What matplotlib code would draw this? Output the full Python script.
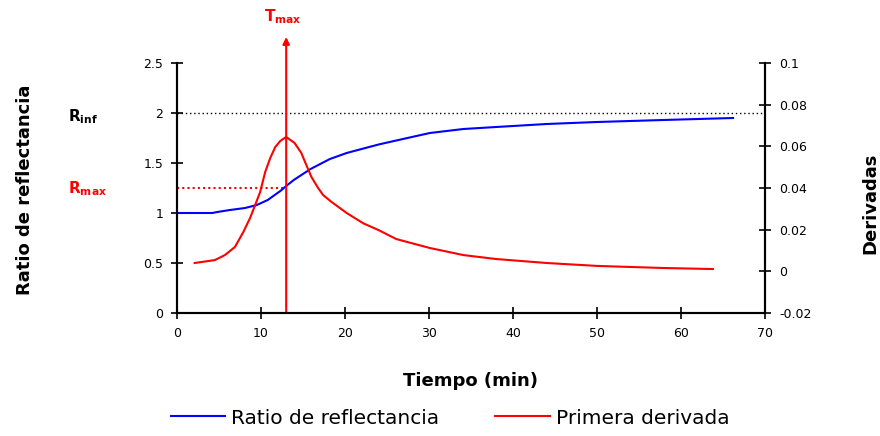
import matplotlib
matplotlib.use("Agg")
import matplotlib.pyplot as plt
import numpy as np

plt.rcParams['font.family'] = ['DejaVu Sans']
plt.rcParams['mathtext.fontset'] = 'dejavusans'

# Ratio de reflectancia (left axis)
t_ratio = [0, 4.2, 4.8, 6.3, 8.1, 9.5, 10.8, 12.3, 13.0, 13.9, 15.9, 18.2, 20.2, 22.2, 24, 26.1, 30.1, 34.1, 38, 44, 50, 57.9, 66.2]
ratio = [1.0, 1.0, 1.01, 1.03, 1.05, 1.08, 1.13, 1.22, 1.27, 1.33, 1.44, 1.54, 1.60, 1.645, 1.685, 1.725, 1.80, 1.84, 1.86, 1.89, 1.91, 1.93, 1.95]

# Primera derivada (right axis)
t_der = [2.1, 4.5, 5.7, 6.9, 7.9, 8.7, 9.3, 9.9, 10.5, 11.1, 11.7, 12.3, 13.0, 14.0, 14.8, 15.4, 16.0, 16.8, 17.4, 18.4, 20.2, 22.2, 24, 26.1, 30.1, 34.1, 38, 44, 50, 57.9, 63.8]
deriv = [0.0040, 0.0054, 0.0078, 0.0117, 0.0189, 0.0256, 0.0318, 0.0381, 0.0477, 0.0544, 0.0597, 0.0626, 0.0645, 0.0616, 0.0568, 0.0510, 0.0453, 0.0400, 0.0366, 0.0333, 0.0280, 0.0230, 0.0198, 0.0155, 0.0112, 0.0078, 0.0059, 0.0040, 0.0026, 0.0016, 0.0011]

r_inf = 2.0
r_max = 1.25
t_max = 13

x_ticks = [0, 10, 20, 30, 40, 50, 60, 70]
left_ticks = [0, 0.5, 1, 1.5, 2, 2.5]
left_labels = ['0', '0.5', '1', '1.5', '2', '2.5']
right_ticks = [-0.02, 0, 0.02, 0.04, 0.06, 0.08, 0.1]
right_labels = ['-0.02', '0', '0.02', '0.04', '0.06', '0.08', '0.1']

W, H = 880, 436
fig = plt.figure(figsize=(8.8, 4.36), dpi=100)
ax = fig.add_axes([177 / W, 1 - 313 / H, (765 - 177) / W, 250 / H])
ax2 = ax.twinx()

ax.set_xlim(0, 70)
ax.set_ylim(0, 2.5)
ax2.set_ylim(-0.02, 0.1)

l1, = ax.plot(t_ratio, ratio, color='#0000ff', lw=1.5, label='Ratio de reflectancia', zorder=3)
l2, = ax2.plot(t_der, deriv, color='#ff0000', lw=1.5, label='Primera derivada', zorder=3)

ax.axhline(r_inf, color='black', lw=1, ls=(0, (1, 2)), zorder=2)
ax.plot([0, t_max], [r_max, r_max], color='#ff0000', lw=1.5, ls=(0, (1, 1.5)), zorder=2)

# vertical Tmax line with arrow above axes
ax.annotate('', xy=(t_max, 2.76), xytext=(t_max, 0), xycoords='data',
            arrowprops=dict(arrowstyle='-|>', color='#ff0000', lw=1.5, mutation_scale=10,
                            shrinkA=0, shrinkB=0), annotation_clip=False, zorder=4)
ax.text(t_max - 0.4, 2.96, r'T$_{\mathbf{max}}$', color='#ff0000', ha='center', va='center',
        fontsize=11, fontweight='bold', clip_on=False)

ax.text(-13.0, 1.96, r'R$_{\mathbf{inf}}$', color='black', ha='left', va='center',
        fontsize=11, fontweight='bold', clip_on=False)
ax.text(-13.0, 1.24, r'R$_{\mathbf{max}}$', color='#ff0000', ha='left', va='center',
        fontsize=11, fontweight='bold', clip_on=False)

for a in (ax, ax2):
    a.spines['top'].set_visible(False)
    for s in a.spines.values():
        s.set_linewidth(1.5)

ax.set_xticks(x_ticks)
ax.set_xticklabels([str(v) for v in x_ticks])
ax.set_yticks(left_ticks)
ax.set_yticklabels(left_labels)
ax2.set_yticks(right_ticks)
ax2.set_yticklabels(right_labels)

ax.tick_params(axis='both', direction='inout', length=8, width=1.2, labelsize=9, pad=6)
ax2.tick_params(axis='y', direction='inout', length=8, width=1.2, labelsize=9, pad=6)

fig.text(470 / W, 1 - 381 / H, 'Tiempo (min)', fontsize=13, fontweight='bold', ha='center', va='center')
fig.text(25 / W, 1 - 190 / H, 'Ratio de reflectancia', fontsize=13, fontweight='bold',
         ha='center', va='center', rotation=90)
fig.text(870 / W, 1 - 203 / H, 'Derivadas', fontsize=13, fontweight='bold',
         ha='center', va='center', rotation=90)

fig.legend(handles=[l1, l2], loc='center', bbox_to_anchor=(450 / W, 1 - 418 / H), ncol=2,
           frameon=False, fontsize=14.5, handlelength=2.7, columnspacing=2.8, handletextpad=0.3)

fig.savefig('out.png', dpi=100)
